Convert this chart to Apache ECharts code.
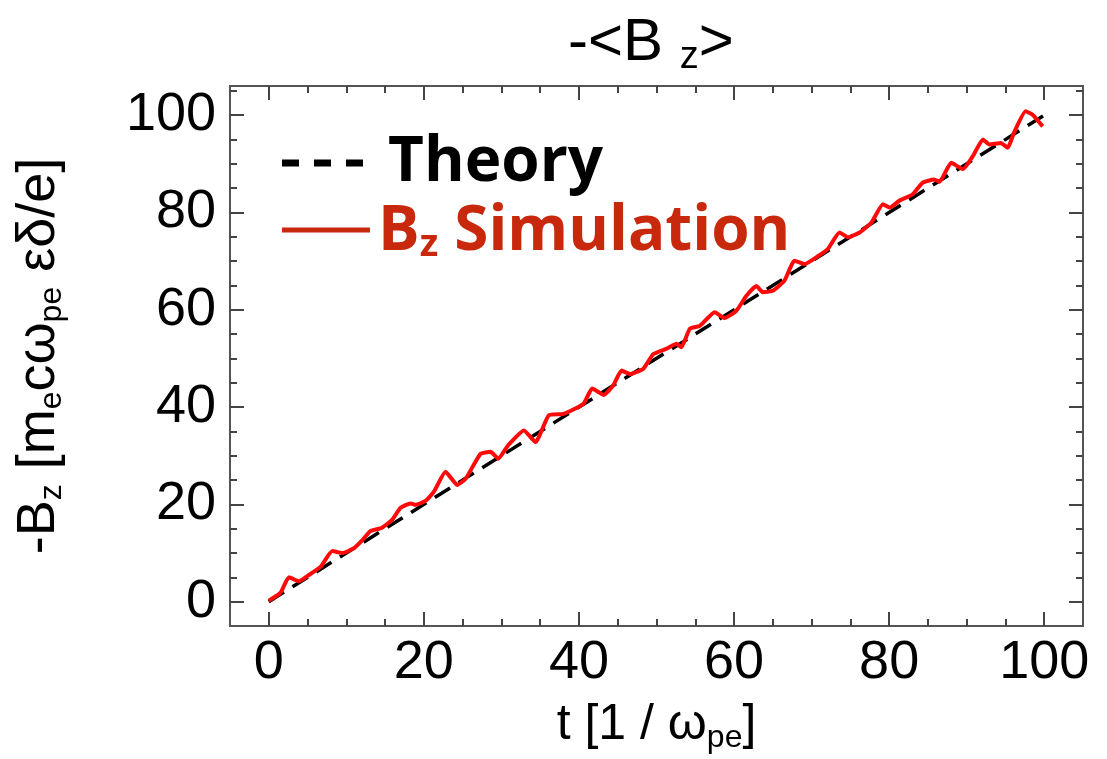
<!DOCTYPE html>
<html>
<head>
<meta charset="utf-8">
<script src="https://cdn.jsdelivr.net/npm/echarts@6/dist/echarts.min.js"></script>
<style>
html,body{margin:0;padding:0;background:#fff;}
#chart{width:1107px;height:759px;}
</style>
</head>
<body>
<div id="chart"></div>
<script>
// ---- data ----
var theoryT = [0, 100];
var theoryB = [0, 100];

var simT = [0, 1.5, 2.6, 3.9, 5.2, 6.7, 8.2, 9.5, 11.0, 12.1, 13.1, 14.6, 15.9, 17.0, 18.3, 18.9, 20.2, 21.3, 22.8, 24.3, 25.4, 27.3, 28.6, 29.6, 30.9, 32.9, 34.4, 36.1, 38.0, 40.6, 41.7, 43.2, 44.4, 45.5, 46.6, 48.3, 49.6, 51.3, 52.6, 53.2, 54.3, 55.6, 57.5, 58.8, 60.3, 61.6, 62.9, 63.7, 65.0, 66.5, 67.8, 69.1, 70.8, 72.1, 73.6, 74.7, 76.2, 77.7, 79.2, 80.1, 81.3, 83.0, 84.3, 85.8, 86.5, 88.0, 89.5, 90.8, 92.1, 92.9, 94.4, 95.3, 96.1, 97.6, 98.5, 99.8];
var simB = [0.2, 1.8, 5.0, 4.2, 5.5, 7.2, 10.4, 10.0, 11.0, 12.7, 14.5, 15.2, 16.8, 19.3, 20.2, 19.9, 20.7, 22.6, 26.7, 24.0, 25.3, 30.4, 30.8, 29.4, 32.2, 35.2, 32.8, 38.3, 38.6, 40.7, 43.8, 42.5, 44.4, 47.5, 46.8, 47.9, 50.9, 52.0, 53.0, 52.3, 56.1, 56.7, 59.5, 58.3, 59.8, 62.9, 64.9, 63.6, 63.9, 66.0, 70.1, 69.4, 71.0, 72.5, 75.9, 74.9, 75.9, 77.9, 81.7, 81.0, 82.4, 83.7, 86.1, 86.8, 86.3, 90.2, 88.9, 91.6, 95.0, 94.0, 94.3, 93.3, 96.4, 100.8, 100.1, 97.7];

var majorTicks = [0, 20, 40, 60, 80, 100];
var minorTicksX = [5, 10, 15, 25, 30, 35, 45, 50, 55, 65, 70, 75, 85, 90, 95];
var minorTicksY = [5, 10, 15, 25, 30, 35, 45, 50, 55, 65, 70, 75, 85, 90, 95, 105];

var titleText = '-<B {sub|z}>';
var xName = 't [1 / ω{sub|pe}]';
var yName = '-B{sub|z} [m{sub|e}cω{sub|pe} εδ/e]';
var legendTheory = 'Theory';
var legendSim = 'B{s|z} Simulation';

var X_MIN = -5, X_MAX = 105, Y_MIN = -5, Y_MAX = 106;

function zip(a, b) { return a.map(function (v, i) { return [v, b[i]]; }); }

var frameColor = '#555';
var tickColor = '#444';
var font = 'Liberation Sans';

function makeX(pos, kind) {
  var isMain = (pos === 'bottom' && kind === 'major');
  return {
    type: 'value', position: pos, min: X_MIN, max: X_MAX,
    axisLine: { show: true, onZero: false, lineStyle: { color: frameColor, width: 2 } },
    axisTick: { show: true, inside: true, length: kind === 'major' ? 14 : 7,
      customValues: kind === 'major' ? majorTicks : minorTicksX,
      lineStyle: { color: tickColor, width: 2 } },
    axisLabel: isMain ? { show: true, customValues: majorTicks, color: '#000',
      fontFamily: font, fontSize: 54, margin: 10 } : { show: false },
    splitLine: { show: false },
    name: isMain ? xName : '',
    nameLocation: 'middle', nameGap: 70,
    nameTextStyle: { fontFamily: font, fontSize: 50, color: '#000',
      rich: { sub: { fontFamily: font, fontSize: 32, color: '#000', padding: [26, 0, 0, 0] } } }
  };
}
function makeY(pos, kind) {
  var isMain = (pos === 'left' && kind === 'major');
  return {
    type: 'value', position: pos, min: Y_MIN, max: Y_MAX,
    axisLine: { show: true, onZero: false, lineStyle: { color: frameColor, width: 2 } },
    axisTick: { show: true, inside: true, length: kind === 'major' ? 14 : 7,
      customValues: kind === 'major' ? majorTicks : minorTicksY,
      lineStyle: { color: tickColor, width: 2 } },
    axisLabel: isMain ? { show: true, customValues: majorTicks, color: '#000',
      fontFamily: font, fontSize: 54, margin: 14 } : { show: false },
    splitLine: { show: false },
    name: isMain ? yName : '',
    nameLocation: 'middle', nameGap: 162, nameRotate: 90,
    nameTextStyle: { fontFamily: font, fontSize: 54, color: '#000',
      rich: { sub: { fontFamily: font, fontSize: 32, color: '#000', padding: [26, 0, 0, 0] } } }
  };
}

var chart = echarts.init(document.getElementById('chart'), null, { renderer: 'canvas' });
chart.setOption({
  backgroundColor: '#fff',
  animation: false,
  title: {
    text: titleText, left: 563, top: 4,
    textStyle: { fontFamily: font, fontSize: 60, fontWeight: 'normal', color: '#000',
      rich: { sub: { fontFamily: font, fontSize: 38, color: '#000', padding: [30, 0, 0, 0] } } }
  },
  grid: { left: 230, right: 24, top: 86, bottom: 131, containLabel: false },
  xAxis: [makeX('bottom', 'major'), makeX('bottom', 'minor'), makeX('top', 'major'), makeX('top', 'minor')],
  yAxis: [makeY('left', 'major'), makeY('left', 'minor'), makeY('right', 'major'), makeY('right', 'minor')],
  series: [
    {
      name: 'Theory', type: 'line', xAxisIndex: 0, yAxisIndex: 0,
      data: zip(theoryT, theoryB), symbol: 'none',
      lineStyle: { color: '#000', width: 3.5, type: [18, 10] }, z: 2
    },
    {
      name: 'Simulation', type: 'line', xAxisIndex: 0, yAxisIndex: 0,
      data: zip(simT, simB), symbol: 'none', smooth: 0.15,
      lineStyle: { color: '#ff0a0a', width: 4, join: 'round' }, z: 3
    }
  ],
  graphic: [
    { type: 'line', shape: { x1: 282, y1: 163, x2: 364, y2: 163 },
      style: { stroke: '#000', lineWidth: 7, lineDash: [17, 15] } },
    { type: 'text', x: 388, y: 163,
      style: { text: legendTheory, fill: '#000', font: 'bold 62px "Open Sans"', verticalAlign: 'middle' } },
    { type: 'line', shape: { x1: 282, y1: 230, x2: 370, y2: 230 },
      style: { stroke: '#c8280c', lineWidth: 5 } },
    { type: 'text', x: 378, y: 232,
      style: { text: legendSim, fill: '#c8280c', font: 'bold 62px "Open Sans"', verticalAlign: 'middle',
        rich: { s: { font: 'bold 38px "Open Sans"', fill: '#c8280c', padding: [26, 0, 0, 0] } } } }
  ]
});
</script>
</body>
</html>
